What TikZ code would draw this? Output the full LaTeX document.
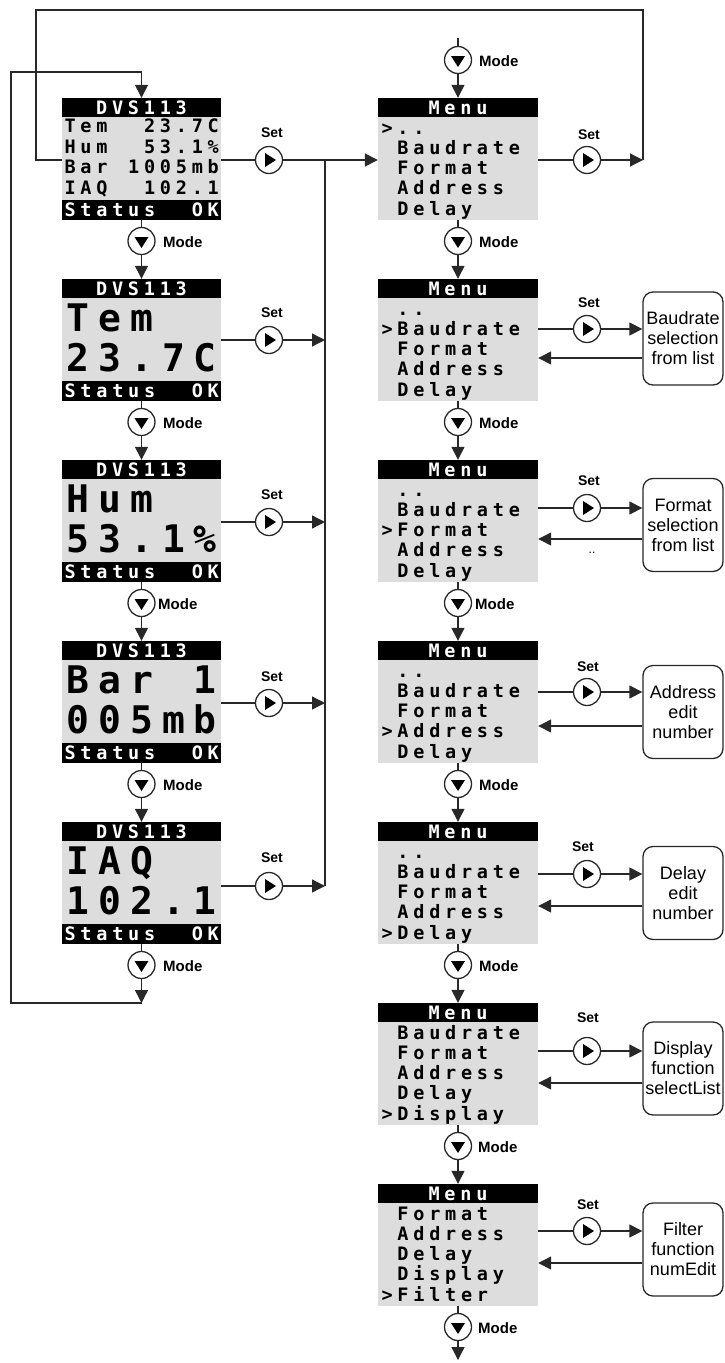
\documentclass[tikz,border=0pt]{standalone}
\usepackage{fontspec}
\setmainfont{Liberation Sans}
\newfontfamily\lcdfont{DejaVu Sans Mono}
\usetikzlibrary{arrows.meta}
\definecolor{lcdgray}{RGB}{221,221,221}
\definecolor{ln}{RGB}{40,40,40}

\newdimen\lcdpitch
\def\lcd#1{\lcdloop#1\relax}
\def\lcdloop#1{\ifx#1\relax\else\hbox to\lcdpitch{\hss#1\hss}\expandafter\lcdloop\fi}
\newcommand\lcdsmall{\lcdfont\bfseries\fontsize{18.5}{20}\selectfont\lcdpitch=15.9pt}
\newcommand\lcdbig{\lcdfont\bfseries\fontsize{38}{40}\selectfont\lcdpitch=31.8pt}

\tikzset{
 conn/.style={draw=ln, line width=1.3pt},
 arr/.style={conn, -{Triangle[length=13pt,width=13pt]}},
 body/.style={fill=lcdgray, draw=none, inner sep=0pt, minimum width=159pt, minimum height=122pt},
 menubody/.style={body, minimum width=160pt},
 row/.style={anchor=base west, inner sep=0pt, font=\lcdsmall},
 bigrow/.style={anchor=base west, inner sep=0pt, font=\lcdbig},
 ttl/.style={anchor=base, inner sep=0pt, text=white, font=\lcdsmall},
 btn/.style={circle, draw=ln, fill=white, line width=1.3pt, minimum size=27pt, inner sep=0pt},
 modebtn/.style={btn, path picture={\fill[black] ([shift={(-7,-4)}]path picture bounding box.center) -- ++(14,0) -- ++(-7,11) -- cycle;}},
 setbtn/.style={btn, path picture={\fill[black] ([shift={(-4,-7)}]path picture bounding box.center) -- ++(0,14) -- ++(11,-7) -- cycle;}},
 modelbl/.style={anchor=west, font=\bfseries\fontsize{15}{15}\selectfont, inner sep=0pt},
 setlbl/.style={font=\bfseries\fontsize{14}{14}\selectfont, inner sep=0pt},
 fnbox/.style={draw=ln, line width=1.3pt, rounded corners=10pt, minimum width=80pt, minimum height=93pt, align=center, font=\fontsize{18}{20}\selectfont, inner sep=0pt}
}

% left small box: name, top, r1..r4
\newcommand\leftsmall[6]{%
 \node[body] (#1) at (141.5,#2+61) {};
 \fill[black] (#1.north west) rectangle ++(159,19);
 \fill[black] (#1.south west) rectangle ++(159,-20);
 \node[ttl] (#1t) at (141.5,#2+16.2) {\lcd{DVS113}};
 \node[row] (#1a) at (62,#2+34.7) {\lcd{#3}};
 \node[row] (#1b) at (62,#2+55.7) {\lcd{#4}};
 \node[row] (#1c) at (62,#2+75.7) {\lcd{#5}};
 \node[row] (#1d) at (62,#2+96.7) {\lcd{#6}};
 \node[row,text=white] (#1s) at (62,#2+118.7) {\lcd{Status~~OK}};
}
% left big box: name, top, r1, r2
\newcommand\leftbig[4]{%
 \node[body] (#1) at (141.5,#2+61) {};
 \fill[black] (#1.north west) rectangle ++(159,19);
 \fill[black] (#1.south west) rectangle ++(159,-20);
 \node[ttl] (#1t) at (141.5,#2+16.2) {\lcd{DVS113}};
 \node[bigrow] (#1a) at (62,#2+52.5) {\lcd{#3}};
 \node[bigrow] (#1b) at (62,#2+92.5) {\lcd{#4}};
 \node[row,text=white] (#1s) at (62,#2+118.7) {\lcd{Status~~OK}};
}
% menu box: name, top, r1..r5
\newcommand\menubox[7]{%
 \node[menubody] (#1) at (458,#2+61) {};
 \fill[black] (#1.north west) rectangle ++(160,19);
 \node[ttl] (#1t) at (458,#2+16.2) {\lcd{Menu}};
 \node[row] (#1a) at (379,#2+36.7) {\lcd{#3}};
 \node[row] (#1b) at (379,#2+56.7) {\lcd{#4}};
 \node[row] (#1c) at (379,#2+76.7) {\lcd{#5}};
 \node[row] (#1d) at (379,#2+96.7) {\lcd{#6}};
 \node[row] (#1e) at (379,#2+117.7) {\lcd{#7}};
}

\begin{document}
\begin{tikzpicture}[x=1pt,y=-1pt]
\useasboundingbox (0,0) rectangle (725,1363);

% ---------- left column ----------
\leftsmall{L1}{98}{Tem~~23.7C}{Hum~~53.1\%}{Bar~1005mb}{IAQ~~102.1}
\leftbig{L2}{279}{Tem}{23.7C}
\leftbig{L3}{460}{Hum}{53.1\%}
\leftbig{L4}{641}{Bar~1}{005mb}
\leftbig{L5}{822}{IAQ}{102.1}

% ---------- menu column ----------
\menubox{M1}{98}{>..}{~Baudrate}{~Format}{~Address}{~Delay}
\menubox{M2}{279}{~..}{>Baudrate}{~Format}{~Address}{~Delay}
\menubox{M3}{460}{~..}{~Baudrate}{>Format}{~Address}{~Delay}
\menubox{M4}{641}{~..}{~Baudrate}{~Format}{>Address}{~Delay}
\menubox{M5}{822}{~..}{~Baudrate}{~Format}{~Address}{>Delay}
\menubox{M6}{1003}{~Baudrate}{~Format}{~Address}{~Delay}{>Display}
\menubox{M7}{1184}{~Format}{~Address}{~Delay}{~Display}{>Filter}

% ---------- function boxes ----------
\node[fnbox] (F2) at (683,338.5) {Baudrate\\selection\\from list};
\node[fnbox] (F3) at (683,525) {Format\\selection\\from list};
\node[fnbox] (F4) at (683,712) {Address\\edit\\number};
\node[fnbox] (F5) at (683,893) {Delay\\edit\\number};
\node[fnbox] (F6) at (683,1068.5) {Display\\function\\selectList};
\node[fnbox] (F7) at (683,1249.5) {Filter\\function\\numEdit};
\node[font=\fontsize{12}{12}\selectfont, inner sep=0pt] (dots) at (592,553) {..};

% ---------- buttons ----------
\node[setbtn] (SL1) at (269,160) {};
\node[setbtn] (SL2) at (269,340) {};
\node[setbtn] (SL3) at (269,522) {};
\node[setbtn] (SL4) at (269,703) {};
\node[setbtn] (SL5) at (269,886) {};
\node[setlbl] (SL1l) at (272,133) {Set};
\node[setlbl] (SL2l) at (272,313) {Set};
\node[setlbl] (SL3l) at (272,495) {Set};
\node[setlbl] (SL4l) at (272,677) {Set};
\node[setlbl] (SL5l) at (272,858) {Set};

\node[modebtn] (ML1) at (141.5,241) {};
\node[modebtn] (ML2) at (141.5,422) {};
\node[modebtn] (ML3) at (141.5,603) {};
\node[modebtn] (ML4) at (141.5,784) {};
\node[modebtn] (ML5) at (141.5,965) {};
\node[modelbl] (ML1l) at (163,242) {Mode};
\node[modelbl] (ML2l) at (163,423) {Mode};
\node[modelbl] (ML3l) at (158,604) {Mode};
\node[modelbl] (ML4l) at (163,785) {Mode};
\node[modelbl] (ML5l) at (163,966) {Mode};

\node[modebtn] (MM0) at (458,60) {};
\node[modebtn] (MM1) at (458,241) {};
\node[modebtn] (MM2) at (458,422) {};
\node[modebtn] (MM3) at (458,603) {};
\node[modebtn] (MM4) at (458,784) {};
\node[modebtn] (MM5) at (458,965) {};
\node[modebtn] (MM6) at (458,1146) {};
\node[modebtn] (MM7) at (458,1327) {};
\node[modelbl] (MM0l) at (479,61) {Mode};
\node[modelbl] (MM1l) at (479,242) {Mode};
\node[modelbl] (MM2l) at (479,423) {Mode};
\node[modelbl] (MM3l) at (475,604) {Mode};
\node[modelbl] (MM4l) at (479,785) {Mode};
\node[modelbl] (MM5l) at (479,966) {Mode};
\node[modelbl] (MM6l) at (478,1147) {Mode};
\node[modelbl] (MM7l) at (478,1328) {Mode};

\node[setbtn] (SM1) at (587,160) {};
\node[setbtn] (SM2) at (587,329) {};
\node[setbtn] (SM3) at (587,508) {};
\node[setbtn] (SM4) at (587,692) {};
\node[setbtn] (SM5) at (587,874) {};
\node[setbtn] (SM6) at (587,1051) {};
\node[setbtn] (SM7) at (587,1231) {};
\node[setlbl] (SM1l) at (589,135) {Set};
\node[setlbl] (SM2l) at (589,303) {Set};
\node[setlbl] (SM3l) at (589,481) {Set};
\node[setlbl] (SM4l) at (588,667) {Set};
\node[setlbl] (SM5l) at (583,847) {Set};
\node[setlbl] (SM6l) at (588,1018) {Set};
\node[setlbl] (SM7l) at (588,1205) {Set};

% ---------- coordinates ----------
\coordinate (J1) at (325,160);
\coordinate (J5) at (325,886);
\coordinate (C1) at (643,160);
\coordinate (C2) at (643,10);
\coordinate (C3) at (36,10);
\coordinate (C4) at (36,160);
\coordinate (B5) at (141.5,1003);
\coordinate (B6) at (11,1003);
\coordinate (B7) at (11,72);
\coordinate (B8) at (141.5,72);
\coordinate (T0) at (458,38);
\coordinate (E7) at (458,1360);
\coordinate (R2) at (683,358);
\coordinate (R3) at (683,539);
\coordinate (R4) at (683,726);
\coordinate (R5) at (683,906);
\coordinate (R6) at (683,1083);
\coordinate (R7) at (683,1263);

% ---------- left connectors ----------
\draw[conn] (L1.east |- SL1) -- (SL1);
\draw[arr] (SL1) -- (M1.west |- SL1);
\draw[conn] (J1) -- (J5);
\foreach \i in {2,3,4,5}{
  \draw[conn] (L\i.east |- SL\i) -- (SL\i);
  \draw[arr] (SL\i) -- (J1 |- SL\i);
}
\foreach \i/\j in {1/2,2/3,3/4,4/5}{
  \draw[conn] (L\i.south) -- (ML\i);
  \draw[arr] (ML\i) -- (L\j.north);
}
\draw[conn] (L5.south) -- (ML5);
\draw[arr] (ML5) -- (B5);
\draw[conn] (B5) -- (B6) -- (B7) -- (B8);
\draw[arr] (B8) -- (L1.north);

% ---------- top loop ----------
\draw[conn] (M1.east |- SM1) -- (SM1);
\draw[arr] (SM1) -- (C1);
\draw[conn] (C1) -- (C2) -- (C3) -- (C4) -- (L1.west |- C4);

% ---------- menu connectors ----------
\draw[conn] (T0) -- (MM0);
\draw[arr] (MM0) -- (M1.north);
\foreach \i/\j in {1/2,2/3,3/4,4/5,5/6,6/7}{
  \draw[conn] (M\i.south) -- (MM\i);
  \draw[arr] (MM\i) -- (M\j.north);
}
\draw[conn] (M7.south) -- (MM7);
\draw[arr] (MM7) -- (E7);
\foreach \i in {2,3,4,5,6,7}{
  \draw[conn] (M\i.east |- SM\i) -- (SM\i);
  \draw[arr] (SM\i) -- (F\i.west |- SM\i);
  \draw[arr] (F\i.west |- R\i) -- (M\i.east |- R\i);
}
\end{tikzpicture}
\end{document}
